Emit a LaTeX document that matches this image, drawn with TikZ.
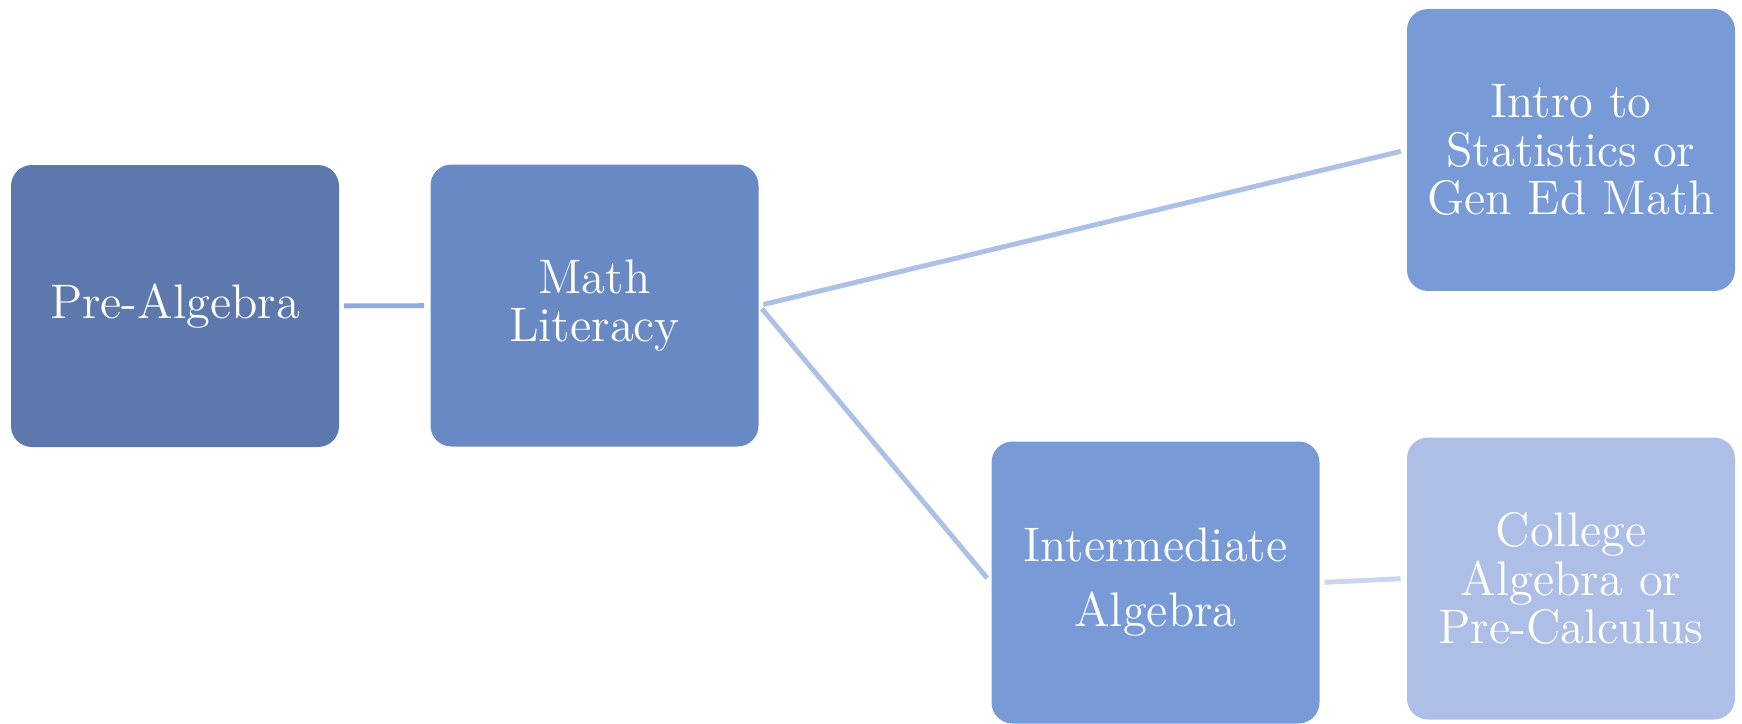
\documentclass[tikz,border=0pt]{standalone}
\usetikzlibrary{positioning}

\definecolor{boxa}{RGB}{93,120,173}
\definecolor{boxb}{RGB}{104,137,196}
\definecolor{boxc}{RGB}{120,155,215}
\definecolor{boxd}{RGB}{173,191,230}
\definecolor{linka}{RGB}{142,170,220}
\definecolor{linkb}{RGB}{173,192,230}
\definecolor{linkc}{RGB}{202,213,238}

\tikzset{
    course/.style={rounded corners=2.1mm, minimum width=32.8mm, minimum height=28.2mm,
	inner sep=0pt, text=white, align=center, text width=31mm,
	font=\fontsize{13.8}{13.7}\selectfont},
    link/.style={line width=1.4pt, shorten <=1.2pt, shorten >=1.6pt}
}

\begin{document}
\begin{tikzpicture}[x=0.1mm, y=-0.1mm]
    \useasboundingbox (0, 0) rectangle (1742, 724);

    \node[course, fill=boxa] (pre) at (175, 306) {Pre-Algebra};
    \node[course, fill=boxb] (lit) at (594.5, 305.5) {Math\\Literacy};
    \node[course, fill=boxc] (stats) at (1571, 150) {Intro to\\Statistics or\\Gen Ed Math};
    \node[course, fill=boxc] (inter) at (1155.5, 582.5) {Intermediate\\[1.7mm]Algebra};
    \node[course, fill=boxd] (coll) at (1571, 578.5) {College\\Algebra or\\Pre-Calculus};

    \draw[link, linka] (pre) -- (lit);
    \draw[link, linkb] (lit.east) -- (stats.west);
    \draw[link, linkb] (lit.east) -- (inter.west);
    \draw[link, linkc] (inter.east) -- (coll.west);
\end{tikzpicture}
\end{document}
